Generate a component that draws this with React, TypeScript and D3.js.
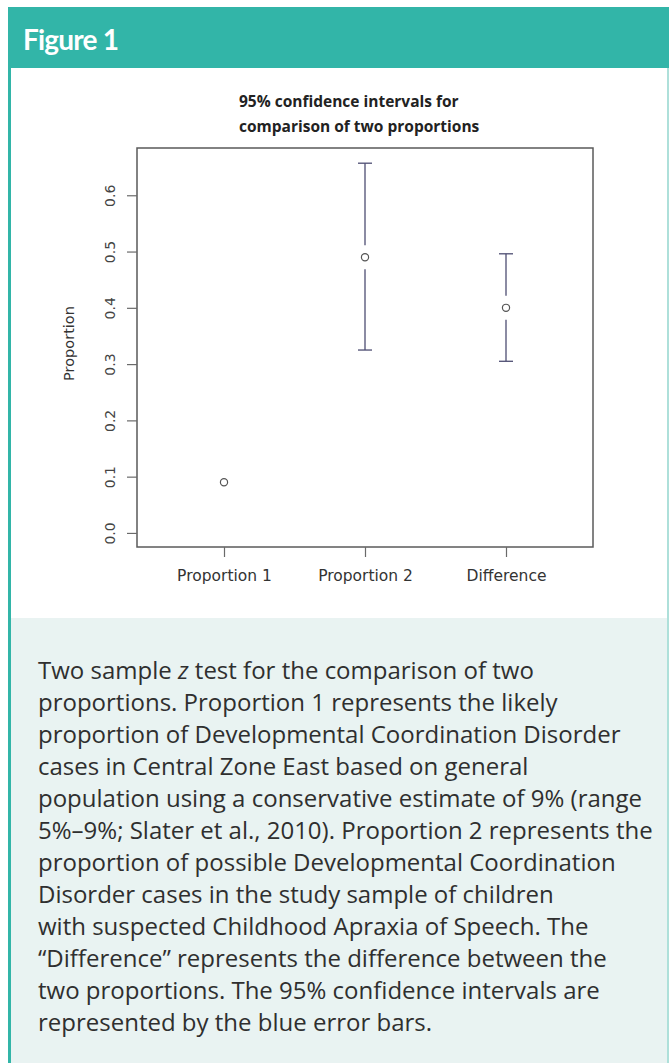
import React, { useEffect, useRef } from "react";
import { select, scaleLinear, scalePoint, axisLeft, axisBottom } from "d3";

// chart data
const groups = ["Proportion 1", "Proportion 2", "Difference"];
const estimates = [0.09, 0.49, 0.4];
const lowers = [0.09, 0.325, 0.305];
const uppers = [0.09, 0.657, 0.496];
const yTicks = [0, 0.1, 0.2, 0.3, 0.4, 0.5, 0.6];

const titleLines = ["95% confidence intervals for", "comparison of two proportions"];

const captionLines = [
  ["Two sample ", "z", " test for the comparison of two"],
  ["proportions. Proportion 1 represents the likely"],
  ["proportion of Developmental Coordination Disorder"],
  ["cases in Central Zone East based on general"],
  ["population using a conservative estimate of 9% (range"],
  ["5%\u20139%; Slater et al., 2010). Proportion 2 represents the"],
  ["proportion of possible Developmental Coordination"],
  ["Disorder cases in the study sample of children"],
  ["with suspected Childhood Apraxia of Speech. The"],
  ["\u201cDifference\u201d represents the difference between the"],
  ["two proportions. The 95% confidence intervals are"],
  ["represented by the blue error bars."],
];

const W = 669;
const H = 1063;
const teal = "#32b5a8";
const box = { left: 137, right: 593, top: 148, bottom: 547 };

function App() {
  const plotRef = useRef<SVGGElement>(null);

  useEffect(() => {
    const g = select(plotRef.current);
    g.selectAll("*").remove();

    const y = scaleLinear().domain([-0.025, 0.684]).range([box.bottom, box.top]);
    const x = scalePoint<string>()
      .domain(groups)
      .range([box.left, box.right])
      .padding(0.617);

    // frame
    g.append("rect")
      .attr("x", box.left)
      .attr("y", box.top)
      .attr("width", box.right - box.left)
      .attr("height", box.bottom - box.top)
      .attr("fill", "none")
      .attr("stroke", "#5a5a5a")
      .attr("stroke-width", 1.5);

    const yAxis = axisLeft(y)
      .tickValues(yTicks)
      .tickSize(10)
      .tickFormat((d) => (d as number).toFixed(1));
    const ya = g.append("g").attr("transform", `translate(${box.left},0)`).call(yAxis);
    ya.select(".domain").remove();
    ya.selectAll("line").attr("stroke", "#6a6a6a").attr("stroke-width", 1.2);
    // R style: labels turned parallel to the axis
    ya.selectAll("text")
      .attr("x", 0)
      .attr("dy", 0)
      .attr("transform", "translate(-22,0) rotate(-90)")
      .attr("text-anchor", "middle")
      .attr("font-family", "DejaVu Sans")
      .attr("font-size", 14)
      .attr("fill", "#444");

    const xAxis = axisBottom(x).tickSize(10).tickPadding(8);
    const xa = g.append("g").attr("transform", `translate(0,${box.bottom})`).call(xAxis);
    xa.select(".domain").remove();
    xa.selectAll("line").attr("stroke", "#6a6a6a").attr("stroke-width", 1.2);
    xa.selectAll("text")
      .attr("font-family", "DejaVu Sans")
      .attr("font-size", 15.5)
      .attr("fill", "#333")
      .attr("dy", "1.05em");

    // error bars, drawn with a gap around the point
    const gap = 12;
    const cap = 7;
    const barColor = "#4d4d72";
    const bars = g
      .selectAll(".bar")
      .data(groups.map((name, i) => ({ name, est: estimates[i], lo: lowers[i], hi: uppers[i] })))
      .join("g")
      .attr("class", "bar");
    bars
      .filter((d) => d.hi > d.lo)
      .each(function (d) {
        const b = select(this);
        const cx = x(d.name) as number;
        const segs = [
          [y(d.hi), y(d.est) - gap],
          [y(d.est) + gap, y(d.lo)],
        ];
        segs.forEach(([a, c]) => {
          b.append("line").attr("x1", cx).attr("x2", cx).attr("y1", a).attr("y2", c);
        });
        [d.hi, d.lo].forEach((v) => {
          b.append("line")
            .attr("x1", cx - cap)
            .attr("x2", cx + cap)
            .attr("y1", y(v))
            .attr("y2", y(v));
        });
        b.selectAll("line").attr("stroke", barColor).attr("stroke-width", 1.3);
      });
    bars
      .append("circle")
      .attr("cx", (d) => x(d.name) as number)
      .attr("cy", (d) => y(d.est))
      .attr("r", 3.6)
      .attr("fill", "none")
      .attr("stroke", "#555")
      .attr("stroke-width", 1.2);

    // y label
    g.append("text")
      .attr("transform", `translate(74,${(box.top + box.bottom) / 2 - 4}) rotate(-90)`)
      .attr("text-anchor", "middle")
      .attr("font-family", "DejaVu Sans")
      .attr("font-size", 14.5)
      .attr("fill", "#333")
      .text("Proportion");
  }, []);

  return (
    <svg
      width={W}
      height={H}
      style={{ position: "absolute", left: 0, top: 0, display: "block" }}
    >
      <rect x={0} y={0} width={W} height={H} fill="#fff" />
      <rect x={8} y={68} width={W - 8} height={550} fill="#fff" />
      <rect x={8} y={618} width={W - 8} height={H - 618} fill="#e9f3f2" />
      <rect x={8} y={7} width={W - 8} height={61} fill={teal} />
      <rect x={8} y={7} width={3} height={H - 7} fill={teal} />
      <rect x={667} y={68} width={2} height={H - 68} fill="#aee0da" />
      <text
        x={23}
        y={50}
        fill="#fff"
        fontFamily="Lato"
        fontWeight={700}
        fontSize={28}
        letterSpacing={-0.8}
      >
        Figure 1
      </text>

      {titleLines.map((t, i) => (
        <text
          key={i}
          x={239}
          y={107 + i * 25}
          fontFamily="Open Sans"
          fontWeight={700}
          fontSize={15.5}
          fill="#222"
        >
          {t}
        </text>
      ))}

      <g ref={plotRef} />

      {captionLines.map((parts, i) => (
        <text
          key={i}
          x={38}
          y={679 + i * 32}
          fontFamily="Open Sans"
          fontSize={24}
          letterSpacing={0}
          fill="#2f2f2f"
        >
          {parts.map((p, j) => (
            <tspan key={j} fontStyle={p === "z" ? "italic" : "normal"}>
              {p}
            </tspan>
          ))}
        </text>
      ))}
    </svg>
  );
}

export default App;
